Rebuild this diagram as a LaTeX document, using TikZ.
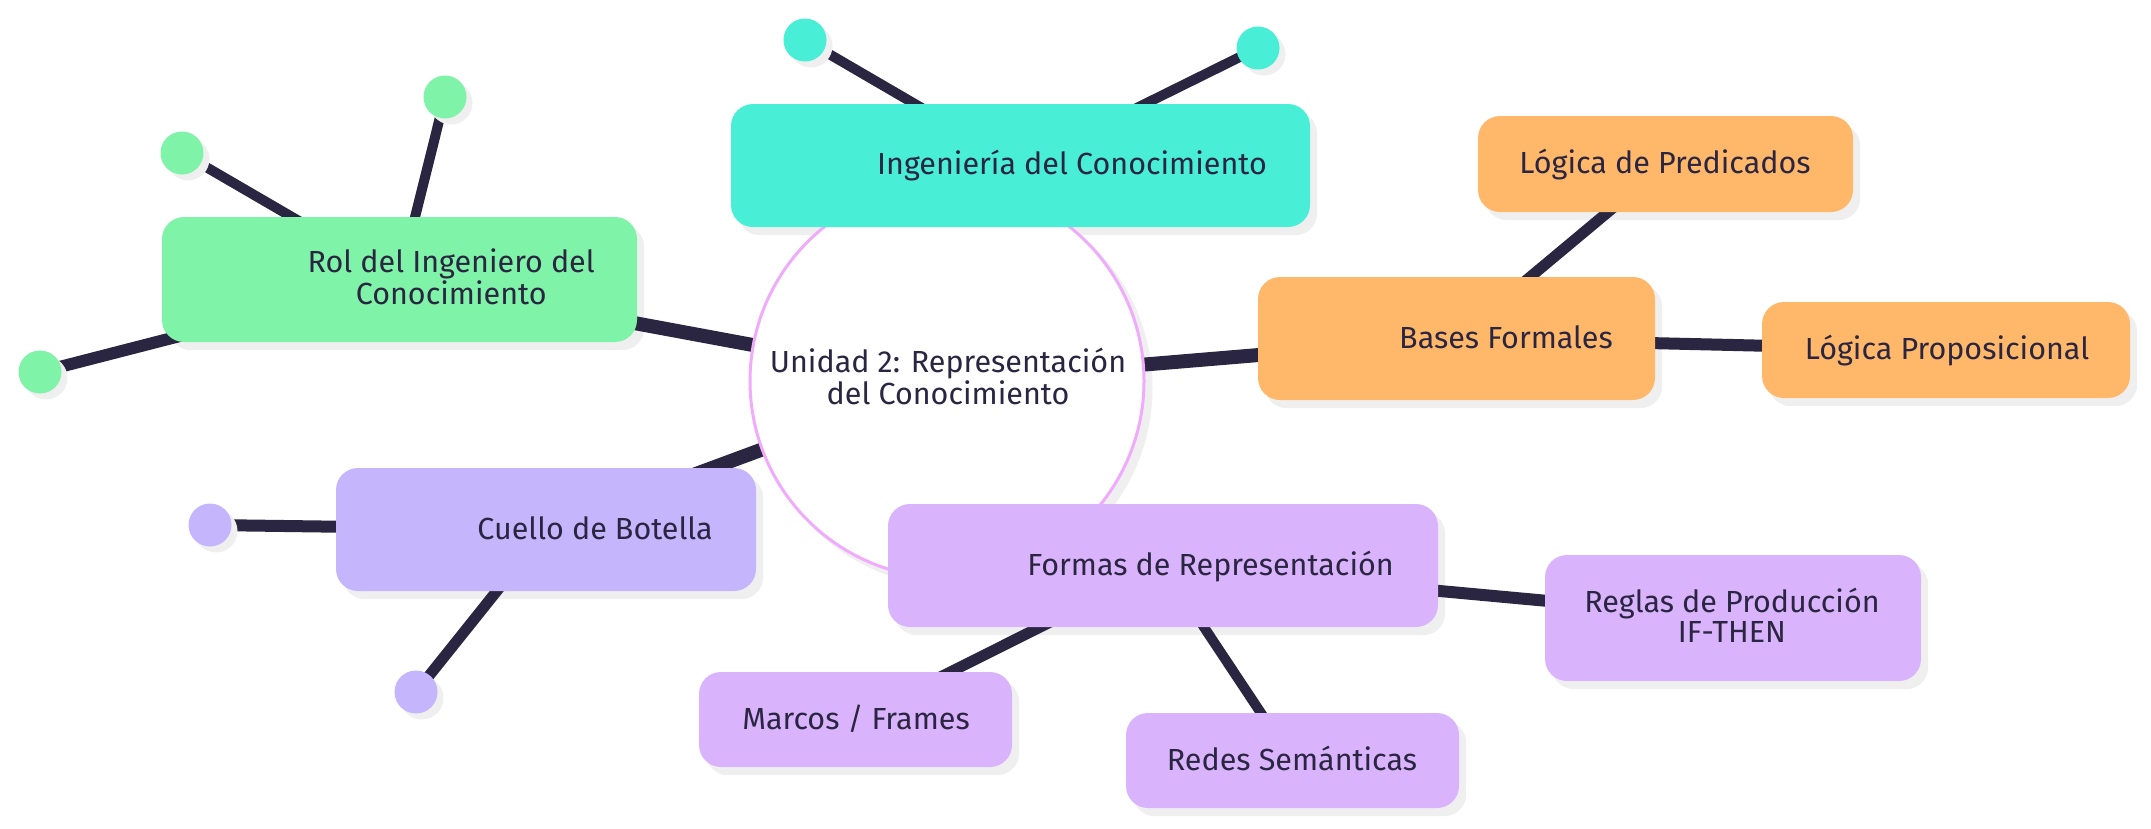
\documentclass[tikz,border=0pt]{standalone}
\usepackage{fontspec}
\setmainfont{Fira Sans}
\definecolor{ink}{HTML}{2A2540}
\definecolor{tealc}{HTML}{48EED6}
\definecolor{greenc}{HTML}{7FF3A8}
\definecolor{orangec}{HTML}{FFB86A}
\definecolor{lavc}{HTML}{C4B5FD}
\definecolor{purc}{HTML}{DAB3FD}
\definecolor{pinkc}{HTML}{F0ABFC}
\definecolor{shadc}{HTML}{EFEFEF}
\pgfdeclarelayer{shadowlayer}
\pgfdeclarelayer{linelayer}
\pgfdeclarelayer{dotshadowlayer}
\pgfdeclarelayer{circlelayer}
\pgfsetlayers{shadowlayer,linelayer,dotshadowlayer,circlelayer,main}
\newcommand{\fsz}{\fontsize{30.5}{30}\selectfont}
\begin{document}
\begin{tikzpicture}[x=1pt,y=-1pt,
  mbox/.style={rectangle, rounded corners=22pt, inner sep=0pt, draw=none},
  dot/.style={circle, minimum size=43pt, inner sep=0pt, draw=none},
  txt/.style={font=\fsz, text=ink, align=center, inner sep=0pt},
  conn/.style={draw=ink, line cap=butt},
  bshadow/.style={fill=shadc, rounded corners=22pt}]
\useasboundingbox (0,0) rectangle (2151,828);

% central topic
\begin{pgfonlayer}{circlelayer}
\node[circle, minimum size=394pt, inner sep=0pt, fill=white, draw=pinkc, line width=3pt] (c) at (947,381) {};
\node[txt, anchor=base] (cT) at (948,404) {Unidad 2: Representación\\del Conocimiento};
\end{pgfonlayer}

% boxes
\node[mbox, fill=tealc, minimum width=579pt, minimum height=123pt] (ing) at (1020.5,165.5) {};
\node[mbox, fill=greenc, minimum width=475pt, minimum height=125pt] (rol) at (399.5,279.5) {};
\node[mbox, fill=lavc, minimum width=420pt, minimum height=123pt] (cue) at (546,529.5) {};
\node[mbox, fill=purc, minimum width=550pt, minimum height=123pt] (for) at (1163,565.5) {};
\node[mbox, fill=orangec, minimum width=397pt, minimum height=123pt] (bas) at (1456.5,338.5) {};
\node[mbox, fill=orangec, minimum width=375pt, minimum height=96pt] (pre) at (1665.5,164) {};
\node[mbox, fill=orangec, minimum width=368pt, minimum height=96pt] (pro) at (1946,350) {};
\node[mbox, fill=purc, minimum width=376pt, minimum height=126pt] (reg) at (1733,618) {};
\node[mbox, fill=purc, minimum width=333pt, minimum height=95pt] (red) at (1292.5,760.5) {};
\node[mbox, fill=purc, minimum width=313pt, minimum height=95pt] (mar) at (855.5,719.5) {};

% texts
\node[txt, anchor=base east] (ingT) at (1267,174) {Ingeniería del Conocimiento};
\node[txt, anchor=base east] (rolT) at (595,304) {Rol del Ingeniero del\\Conocimiento};
\node[txt, anchor=base east] (cueT) at (713,539) {Cuello de Botella};
\node[txt, anchor=base east] (forT) at (1394,575) {Formas de Representación};
\node[txt, anchor=base east] (basT) at (1613,348) {Bases Formales};
\node[txt, anchor=base] (preT) at (1665,173) {Lógica de Predicados};
\node[txt, anchor=base] (proT) at (1947,359) {Lógica Proposicional};
\node[txt, anchor=base] (regT) at (1732,642) {Reglas de Producción\\IF-THEN};
\node[txt, anchor=base] (redT) at (1292,770) {Redes Semánticas};
\node[txt, anchor=base] (marT) at (856,729) {Marcos / Frames};

% leaf dots
\node[dot, fill=tealc] (t1) at (805,40) {};
\node[dot, fill=tealc] (t2) at (1258,48) {};
\node[dot, fill=greenc] (g1) at (182,153) {};
\node[dot, fill=greenc] (g2) at (445,97) {};
\node[dot, fill=greenc] (g3) at (40,372) {};
\node[dot, fill=lavc] (v1) at (210,525) {};
\node[dot, fill=lavc] (v2) at (416,692) {};

% shadows
\begin{pgfonlayer}{shadowlayer}
\fill[shadc] ([shift={(7,7)}]c.center) circle (198.5pt);
\foreach \n in {ing,rol,cue,for,bas,pre,pro,reg,red,mar}{
  \fill[bshadow] ([shift={(7,8)}]\n.south west) rectangle ([shift={(7,8)}]\n.north east);
}
\end{pgfonlayer}
\begin{pgfonlayer}{dotshadowlayer}
\foreach \n in {t1,t2,g1,g2,g3,v1,v2}{
  \fill[shadc] ([shift={(6,6)}]\n.center) circle (21.5pt);
}
\end{pgfonlayer}

% connectors
\begin{pgfonlayer}{linelayer}
\draw[conn, line width=14pt] (c.center) -- (rol.center);
\draw[conn, line width=14pt] (c.center) -- (bas.center);
\draw[conn, line width=14pt] (c.center) -- (cue.center);
\draw[conn, line width=10pt] (ing.center) -- (t1.center);
\draw[conn, line width=10pt] (ing.center) -- (t2.center);
\draw[conn, line width=10pt] (rol.center) -- (g1.center);
\draw[conn, line width=10pt] (rol.center) -- (g2.center);
\draw[conn, line width=12pt] (rol.center) -- (g3.center);
\draw[conn, line width=12pt] (cue.center) -- (v1.center);
\draw[conn, line width=11pt] (cue.center) -- (v2.center);
\draw[conn, line width=11pt] (bas.center) -- (pre.center);
\draw[conn, line width=12pt] (bas.center) -- (pro.center);
\draw[conn, line width=12pt] (for.center) -- (reg.center);
\draw[conn, line width=10pt] (for.center) -- (red.center);
\draw[conn, line width=11pt] (for.center) -- (mar.center);
\end{pgfonlayer}
\end{tikzpicture}
\end{document}
